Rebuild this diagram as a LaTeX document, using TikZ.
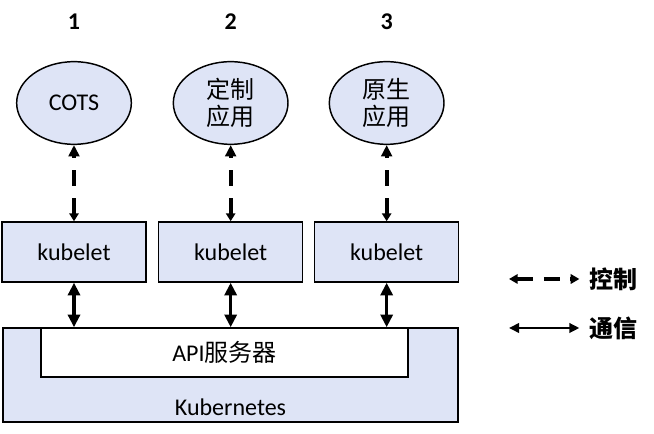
\documentclass[tikz,border=0pt]{standalone}
\usepackage{fontspec}
\setmainfont{Carlito}
\newfontfamily\cjk{Noto Sans CJK SC}
\usetikzlibrary{arrows.meta, positioning, shapes.geometric}
\definecolor{paleblue}{RGB}{222,228,246}

\begin{document}
\begin{tikzpicture}[x=0.75pt, y=0.75pt, >=Latex, every node/.style={font=\fontsize{18}{20}\selectfont}]
    % Define styles for apps, kubelets, arrows and legend
    \tikzstyle{app} = [draw, fill=paleblue, ellipse, line width=1.1pt, minimum width=86pt, minimum height=62pt, inner sep=0pt, align=center]
    \tikzstyle{kubelet} = [draw, fill=paleblue, rectangle, line width=1.1pt, minimum width=108pt, minimum height=45pt]
    \tikzstyle{num} = [font=\fontsize{18}{20}\selectfont\bfseries]
    \tikzstyle{ctrl} = [line width=2.8pt, dash pattern=on 12pt off 9pt, {Triangle[width=7pt,length=6pt]}-{Triangle[width=8pt,length=8.5pt]}]
    \tikzstyle{comm} = [line width=2.6pt, {Triangle[width=9pt,length=9.5pt]}-{Triangle[width=9pt,length=9.5pt]}]
    \tikzstyle{legend} = [font=\fontsize{18}{20}\selectfont\cjk\bfseries, inner sep=0pt]

    \useasboundingbox (0,0) rectangle (654,434);

    % Nodes placement
    \node [app] (cots) at (74,331) {COTS};
    \node [app, right of=cots, node distance=117.5pt, font=\fontsize{18}{20}\selectfont\cjk] (custom) {定制\\应用};
    \node [app, right of=custom, node distance=117pt, font=\fontsize{18}{20}\selectfont\cjk] (native) {原生\\应用};
    \node [num, above of=cots, node distance=60.75pt] (num1) {1};
    \node [num, above of=custom, node distance=60.75pt] (num2) {2};
    \node [num, above of=native, node distance=60.75pt] (num3) {3};
    \node [kubelet, below of=cots, node distance=111.75pt] (kub1) {kubelet};
    \node [kubelet, below of=custom, node distance=111.75pt] (kub2) {kubelet};
    \node [kubelet, below of=native, node distance=111.75pt] (kub3) {kubelet};
    \node [kubelet, minimum width=341.25pt, minimum height=70.5pt] (k8s) at (230.5,59) {};
    \node (k8slabel) at (230.5,27) {Kubernetes};
    \node [draw, fill=white, line width=1.1pt, minimum width=275.25pt, minimum height=36.75pt] (api) at (224.5,81.5) {API{\cjk 服务器}};

    % Legend
    \coordinate (ctrlstart) at (509,155);
    \coordinate (commstart) at (509,106);
    \node [legend] (ctrllabel) at (613,155) {控制};
    \node [legend] (commlabel) at (613,106) {通信};

    % Draw edges
    \draw[ctrl] (kub1.north) -- (cots.south);
    \draw[ctrl] (kub2.north) -- (custom.south);
    \draw[ctrl] (kub3.north) -- (native.south);
    \draw[comm] (kub1.south) -- (kub1.south |- api.north);
    \draw[comm] (kub2.south) -- (kub2.south |- api.north);
    \draw[comm] (kub3.south) -- (kub3.south |- api.north);
    \draw[ctrl, line width=2.3pt, dash pattern=on 12pt off 8pt, {Triangle[width=7pt,length=6.5pt]}-{Triangle[width=7pt,length=6.5pt]}, shorten >=7pt] (ctrlstart) -- (ctrllabel.west);
    \draw[comm, line width=2pt, {Triangle[width=7pt,length=7.5pt]}-{Triangle[width=7pt,length=7.5pt]}, shorten >=7pt] (commstart) -- (commlabel.west);
\end{tikzpicture}
\end{document}
